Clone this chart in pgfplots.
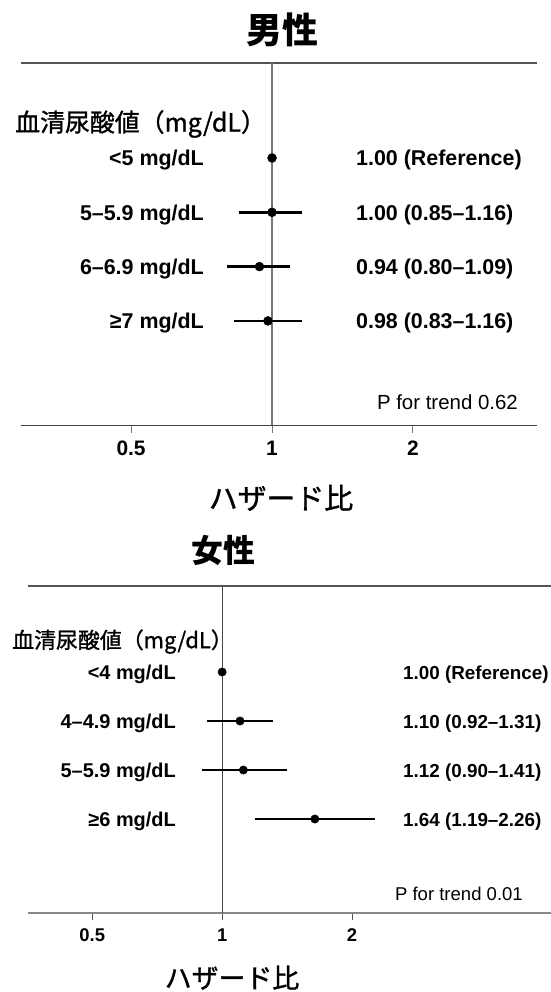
\documentclass[border=0pt]{standalone}
\usepackage{fontspec}
\setmainfont{Liberation Sans}
\newfontfamily\cjk{Noto Sans CJK JP}
\newfontfamily\cjkm[FakeBold=1.2]{Noto Sans CJK JP}
\usepackage{pgfplots}
\usepackage{pgfplotstable}
\pgfplotsset{compat=1.18}
\definecolor{lineA}{HTML}{555555}
\definecolor{lineB}{HTML}{777777}
\definecolor{lineC}{HTML}{444444}
\definecolor{lineD}{HTML}{888888}
\pgfplotstableread{
row hr lo hi
1 1.00 1.00 1.00
2 1.00 0.85 1.16
3 0.94 0.80 1.09
4 0.98 0.83 1.16
}\men
\pgfplotstableread{
row hr lo hi
1 1.00 1.00 1.00
2 1.10 0.92 1.31
3 1.12 0.90 1.41
4 1.64 1.19 2.26
}\women
\begin{document}
\begin{tikzpicture}
\useasboundingbox (0bp,0bp) rectangle (551bp,-992bp);

% ---------- Men ----------
\begin{axis}[
  at={(21bp,-425bp)}, anchor=south west,
  scale only axis, width=516bp, height=362bp,
  xmode=log, log basis x=2, xmin=0.291, xmax=3.68,
  ymin=-5.917, ymax=0.7495,
  axis x line=bottom, axis y line=none,
  x axis line style={-, draw=lineC, line width=1bp},
  xtick={0.5,1,2}, xticklabels={0.5,1,2},
  minor xtick={},
  tick align=outside, major tick length=8bp,
  xtick style={draw=lineB, line width=1bp},
  xticklabel style={font=\fontsize{21}{24}\selectfont\bfseries, anchor=base, yshift=-22.5bp},
  clip=false,
]
\draw[lineA, line width=1.2bp] (rel axis cs:0,1) -- (rel axis cs:1,1);
\draw[lineB, line width=1.3bp] (axis cs:1,-5.917) -- (axis cs:1,0.7495);
\addplot[black, line width=2.5bp] coordinates {(0.85,-2) (1.16,-2)};
\addplot[black, line width=2.5bp] coordinates {(0.80,-3) (1.09,-3)};
\addplot[black, line width=2.5bp] coordinates {(0.83,-4) (1.16,-4)};
\addplot[only marks, mark=*, mark size=4.5bp, black] table[x=hr, y expr=-\thisrow{row}] {\men};
\end{axis}

\node[anchor=base, font=\cjk\bfseries\fontsize{36}{40}\selectfont] at (282bp,-43.7bp) {男性};
\node[anchor=base west, inner sep=0pt, font=\cjkm\fontsize{25}{28}\selectfont] at (15bp,-131.5bp) {血清尿酸値（mg/dL）};
\begin{scope}[every node/.style={inner sep=0pt, font=\fontsize{21.5}{25}\selectfont\bfseries}]
\node[anchor=base east] at (204bp,-165.7bp) {<5 mg/dL};
\node[anchor=base east] at (204bp,-220bp) {5–5.9 mg/dL};
\node[anchor=base east] at (204bp,-274.3bp) {6–6.9 mg/dL};
\node[anchor=base east] at (204bp,-328.6bp) {≥7 mg/dL};
\node[anchor=base west] at (356bp,-165.7bp) {1.00 (Reference)};
\node[anchor=base west] at (356bp,-220bp) {1.00 (0.85–1.16)};
\node[anchor=base west] at (356bp,-274.3bp) {0.94 (0.80–1.09)};
\node[anchor=base west] at (356bp,-328.6bp) {0.98 (0.83–1.16)};
\end{scope}
\node[anchor=base east, inner sep=0pt, font=\fontsize{20.5}{24}\selectfont] at (518bp,-409.3bp) {P for trend 0.62};
\node[anchor=base, inner sep=0pt, font=\cjkm\fontsize{29}{32}\selectfont] at (281bp,-509bp) {ハザード比};

% ---------- Women ----------
\begin{axis}[
  at={(28bp,-913bp)}, anchor=south west,
  scale only axis, width=523bp, height=327bp,
  xmode=log, log basis x=2, xmin=0.355, xmax=5.78,
  ymin=-5.918, ymax=0.755,
  axis x line=bottom, axis y line=none,
  x axis line style={-, draw=lineD, line width=2bp},
  xtick={0.5,1,2}, xticklabels={0.5,1,2},
  minor xtick={},
  tick align=outside, major tick length=7bp,
  xtick style={draw=lineA, line width=1bp},
  xticklabel style={font=\fontsize{18.5}{22}\selectfont\bfseries, anchor=base, yshift=-21.5bp},
  clip=false,
]
\draw[lineA, line width=2bp] (rel axis cs:0,1) -- (rel axis cs:1,1);
\draw[lineC, line width=1bp] (axis cs:1,-5.918) -- (axis cs:1,0.755);
\addplot[black, line width=2.3bp] coordinates {(0.92,-2) (1.31,-2)};
\addplot[black, line width=2.3bp] coordinates {(0.90,-3) (1.41,-3)};
\addplot[black, line width=2.3bp] coordinates {(1.19,-4) (2.26,-4)};
\addplot[only marks, mark=*, mark size=4.2bp, black] table[x=hr, y expr=-\thisrow{row}] {\women};
\end{axis}

\node[anchor=base, font=\cjk\bfseries\fontsize{32}{36}\selectfont] at (223bp,-562bp) {女性};
\node[anchor=base west, inner sep=0pt, font=\cjkm\fontsize{22}{25}\selectfont] at (12bp,-648.2bp) {血清尿酸値（mg/dL）};
\begin{scope}[every node/.style={inner sep=0pt, font=\fontsize{20}{24}\selectfont\bfseries}]
\node[anchor=base east] at (176bp,-679.3bp) {<4 mg/dL};
\node[anchor=base east] at (176bp,-728.3bp) {4–4.9 mg/dL};
\node[anchor=base east] at (176bp,-777.3bp) {5–5.9 mg/dL};
\node[anchor=base east] at (176bp,-826.3bp) {≥6 mg/dL};
\end{scope}
\begin{scope}[every node/.style={inner sep=0pt, font=\fontsize{18.9}{22}\selectfont\bfseries}]
\node[anchor=base west] at (403bp,-679.3bp) {1.00 (Reference)};
\node[anchor=base west] at (403bp,-728.3bp) {1.10 (0.92–1.31)};
\node[anchor=base west] at (403bp,-777.3bp) {1.12 (0.90–1.41)};
\node[anchor=base west] at (403bp,-826.3bp) {1.64 (1.19–2.26)};
\end{scope}
\node[anchor=base east, inner sep=0pt, font=\fontsize{18.6}{22}\selectfont] at (523bp,-900bp) {P for trend 0.01};
\node[anchor=base, inner sep=0pt, font=\cjkm\fontsize{27}{30}\selectfont] at (232bp,-988bp) {ハザード比};
\end{tikzpicture}
\end{document}
